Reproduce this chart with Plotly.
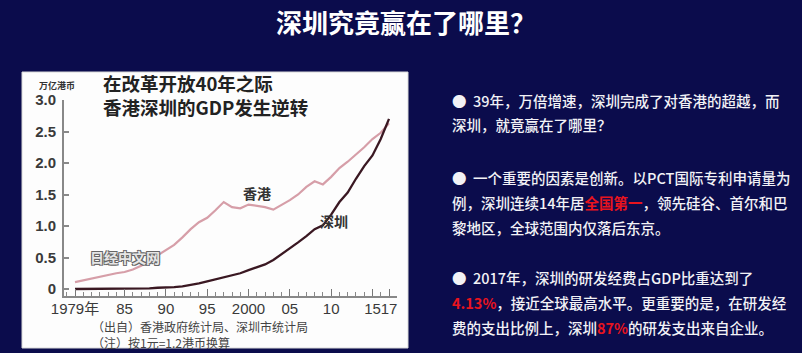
import plotly.graph_objects as go

W, H = 802, 353

years = list(range(1979, 2018))
hk_gdp = [0.11, 0.14, 0.17, 0.20, 0.22, 0.25, 0.27, 0.31, 0.37, 0.45,
          0.53, 0.61, 0.70, 0.82, 0.95, 1.06, 1.13, 1.25, 1.38, 1.30,
          1.28, 1.34, 1.32, 1.30, 1.26, 1.33, 1.41, 1.50, 1.62, 1.71,
          1.66, 1.78, 1.92, 2.02, 2.13, 2.25, 2.38, 2.48, 2.63]
sz_gdp = [0.00, 0.00, 0.00, 0.00, 0.00, 0.01, 0.01, 0.01, 0.01, 0.01,
          0.02, 0.02, 0.03, 0.04, 0.06, 0.09, 0.12, 0.15, 0.18, 0.21,
          0.25, 0.30, 0.34, 0.39, 0.46, 0.55, 0.64, 0.74, 0.84, 0.95,
          1.01, 1.18, 1.38, 1.53, 1.75, 1.95, 2.12, 2.38, 2.70]

x_tickvals = [1979, 1985, 1990, 1995, 2000, 2005, 2010, 2015, 2017]
x_ticktext = ["1979年", "85", "90", "95", "2000", "05", "10", "15", "17"]
y_tickvals = [0, 0.5, 1.0, 1.5, 2.0, 2.5, 3.0]
y_ticktext = ["0", "0.5", "1.0", "1.5", "2.0", "2.5", "3.0"]

page_title = "深圳究竟赢在了哪里？"
chart_title = ["在改革开放40年之际", "香港深圳的GDP发生逆转"]
unit_label = "万亿港币"
notes = ["（出自）香港政府统计局、深圳市统计局", "（注）按1元=1.2港币换算"]
RED = "#e8141e"
right_lines = [
    ("●  39年，万倍增速，深圳完成了对香港的超越，而", 100),
    ("深圳，就竟赢在了哪里？", 125),
    ("●  一个重要的因素是创新。以PCT国际专利申请量为", 177),
    ("例，深圳连续14年居<span style='color:%s'><b>全国第一</b></span>，领先硅谷、首尔和巴" % RED, 202),
    ("黎地区，全球范围内仅落后东京。", 227),
    ("●  2017年，深圳的研发经费占GDP比重达到了", 277),
    ("<span style='color:%s'><b>4.13%%</b></span>，接近全球最高水平。更重要的是，在研发经" % RED, 302),
    ("费的支出比例上，深圳<span style='color:%s'><b>87%%</b></span>的研发支出来自企业。" % RED, 327),
]

BG = "#0b0c4c"
CJK = "Noto Sans CJK SC"

def px(x):
    return x / W

def py(y):
    return 1 - y / H

fig = go.Figure()
fig.add_trace(go.Scatter(x=years, y=hk_gdp, mode="lines", name="香港",
                         line=dict(color="#d69ea8", width=2.2), hoverinfo="skip"))
fig.add_trace(go.Scatter(x=years, y=sz_gdp, mode="lines", name="深圳",
                         line=dict(color="#3a1822", width=2.3), hoverinfo="skip"))

# white panel behind the chart
fig.add_shape(type="rect", xref="paper", yref="paper",
              x0=px(22), x1=px(408), y0=py(348), y1=py(72),
              fillcolor="#fdfdfd", line=dict(color="#d8d8d8", width=1), layer="below")

yr_per_px = 1 / 8.26
x0_px, x1_px = 64, 397
fig.update_layout(
    width=W, height=H,
    margin=dict(l=0, r=0, t=0, b=0),
    paper_bgcolor=BG, plot_bgcolor="rgba(0,0,0,0)",
    showlegend=False,
    xaxis=dict(domain=[px(x0_px), px(x1_px)],
               range=[1979 - (75 - x0_px) * yr_per_px, 2017 + (x1_px - 389) * yr_per_px],
               automargin=False,
               tickmode="array", tickvals=x_tickvals, ticktext=x_ticktext,
               tickangle=0, ticklabelstandoff=-2,
               ticks="inside", ticklen=7, tickwidth=1, tickcolor="#777",
               minor=dict(dtick=1, tick0=1979, ticks="inside", ticklen=4, tickcolor="#888", tickwidth=1),
               showline=True, linecolor="#888", linewidth=1.5,
               showgrid=False, zeroline=False,
               tickfont=dict(family="Liberation Sans, " + CJK, size=15, color="#3a3a3a"),
               fixedrange=True),
    yaxis=dict(domain=[py(296), py(100)],
               range=[-7 / 63, 3.0],
               automargin=False,
               tickmode="array", tickvals=y_tickvals, ticktext=y_ticktext,
               ticks="inside", ticklen=5, tickwidth=1.5, tickcolor="#888",
               showline=True, linecolor="#888", linewidth=2,
               showgrid=False, zeroline=False,
               ticklabelstandoff=3,
               tickfont=dict(family="Liberation Sans", size=15, color="#3a3a3a", weight="bold"),
               fixedrange=True),
)

ann = []
ann.append(dict(text=page_title, x=px(406), y=py(21), xref="paper", yref="paper",
                showarrow=False, xanchor="center", yanchor="middle",
                font=dict(family=CJK, size=26, color="white", weight="bold")))
ann.append(dict(text="<br>".join(chart_title), x=px(101), y=py(95), xref="paper", yref="paper",
                showarrow=False, xanchor="left", yanchor="middle", align="left",
                font=dict(family=CJK, size=18.5, color="#222", weight="bold")))
ann.append(dict(text=unit_label, x=px(37), y=py(85), xref="paper", yref="paper",
                showarrow=False, xanchor="left", yanchor="middle",
                font=dict(family=CJK, size=9, color="#333", weight="bold")))
ann.append(dict(text="香港", x=2001.0, y=1.53, xref="x", yref="y",
                showarrow=False, xanchor="center", yanchor="middle",
                font=dict(family=CJK, size=14, color="#333", weight="bold")))
ann.append(dict(text="深圳", x=2010.4, y=1.08, xref="x", yref="y",
                showarrow=False, xanchor="center", yanchor="middle",
                font=dict(family=CJK, size=14, color="#333", weight="bold")))
ann.append(dict(text="日经中文网", x=px(125), y=py(257), xref="paper", yref="paper",
                showarrow=False, xanchor="center", yanchor="middle",
                font=dict(family=CJK, size=14, color="#e6e6e6", weight="bold",
                          shadow="-1px -1px 0 #666, 1px -1px 0 #666, -1px 1px 0 #666, 1px 1px 0 #666")))
ann.append(dict(text="<br>".join(notes), x=px(90), y=py(334), xref="paper", yref="paper",
                showarrow=False, xanchor="left", yanchor="middle", align="left",
                font=dict(family=CJK, size=12, color="#444")))
for t, yy in right_lines:
    ann.append(dict(text=t, x=px(450), y=py(yy), xref="paper", yref="paper",
                    showarrow=False, xanchor="left", yanchor="middle",
                    font=dict(family=CJK, size=14.5, color="#f2f2f6", weight=500)))
fig.update_layout(annotations=ann)

fig.write_html("out.html", config={"displayModeBar": False})
